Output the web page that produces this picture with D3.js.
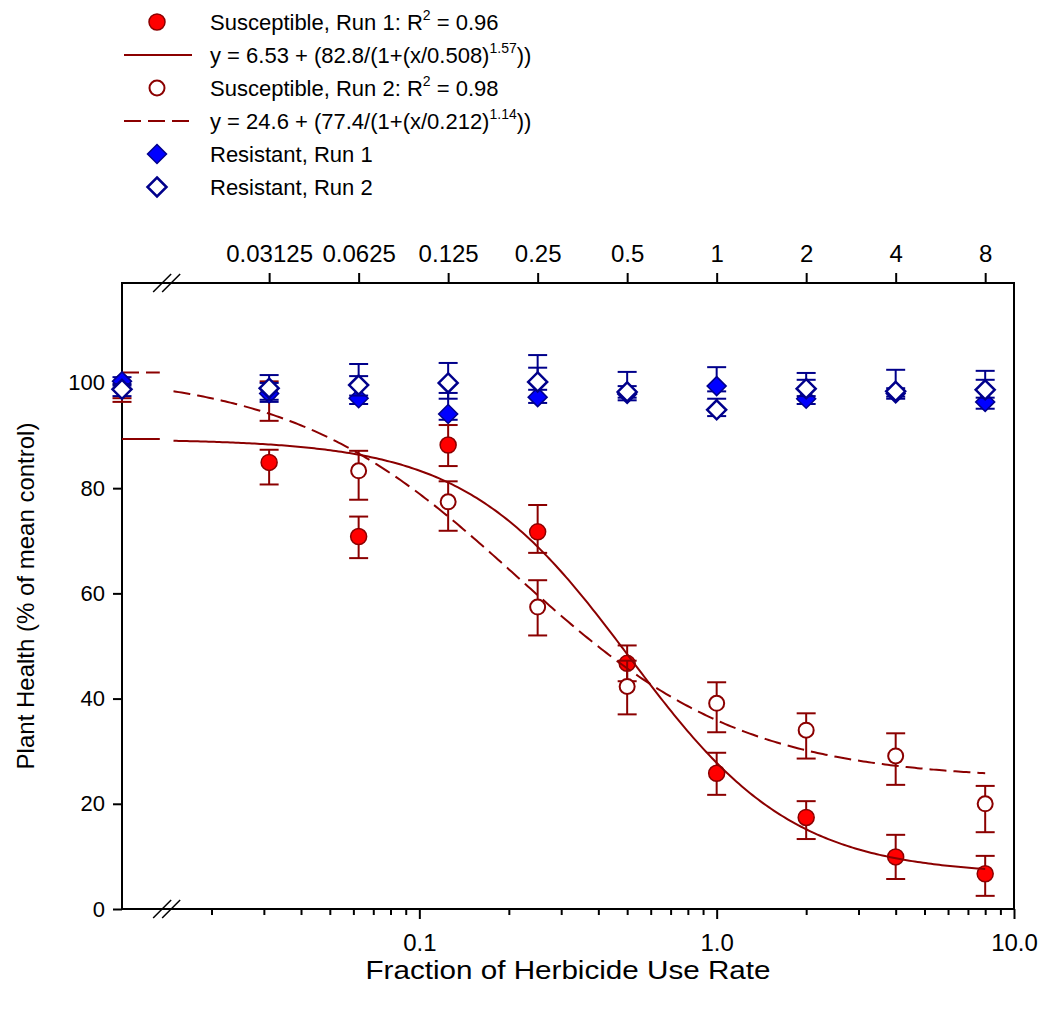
<!DOCTYPE html>
<html><head><meta charset="utf-8">
<script src="https://cdn.jsdelivr.net/npm/d3@7"></script>
<style>body{margin:0;background:#fff} text{font-family:"Liberation Sans",Arial,sans-serif;fill:#000}</style>
</head><body>
<svg id="c" width="1044" height="1013"></svg>
<script>
// ---------- data ----------
const doses = [0, 0.03125, 0.0625, 0.125, 0.25, 0.5, 1, 2, 4, 8];
const topTicks = [0.03125, 0.0625, 0.125, 0.25, 0.5, 1, 2, 4, 8];
const topTickLabels = ["0.03125", "0.0625", "0.125", "0.25", "0.5", "1", "2", "4", "8"];
const bottomTicks = [0.1, 1, 10];
const bottomTickLabels = ["0.1", "1.0", "10.0"];
const yTicks = [0, 20, 40, 60, 80, 100];

const susRun1 = [100, 84.9, 70.8, 88.2, 71.7, 46.7, 25.8, 17.4, 9.9, 6.7];
const susRun1Up = [0, 2.4, 3.8, 3.8, 5.1, 3.4, 3.9, 3.1, 4.2, 3.4];
const susRun1Down = [3.6, 4.2, 4.1, 4.0, 4.0, 3.4, 4.1, 4.1, 4.2, 4.2];

const susRun2 = [100, 98.3, 83.3, 77.4, 57.4, 42.3, 39.1, 34.0, 29.1, 20.0];
const susRun2Up = [0, 2.0, 3.8, 3.9, 5.1, 4.9, 4.0, 3.2, 4.3, 3.4];
const susRun2Down = [2.9, 5.5, 5.5, 5.5, 5.4, 5.3, 5.5, 5.4, 5.5, 5.4];

const resRun1 = [100.3, 98.0, 97.1, 94.1, 97.3, 97.9, 99.4, 97.0, 98.0, 96.4];
const resRun1Up = [0.8, 2.0, 4.2, 4.0, 5.6, 1.5, 3.6, 3.6, 1.0, 4.2];
const resRun1Down = [0.8, 1.6, 1.1, 1.1, 1.1, 1.2, 1.0, 1.0, 1.0, 1.3];

const resRun2 = [98.8, 99.0, 99.6, 100.0, 100.2, 98.3, 94.9, 98.9, 98.4, 98.7];
const resRun2Up = [1.0, 2.5, 4.0, 3.8, 5.1, 3.8, 2.1, 3.0, 4.1, 3.6];
const resRun2Down = [1.3, 2.2, 2.0, 3.0, 1.5, 1.1, 1.2, 1.4, 1.0, 1.5];

// fitted model parameters (from legend)
const fit1 = {c: 6.53, d: 82.8, e: 0.508, b: 1.57};
const fit2 = {c: 24.6, d: 77.4, e: 0.212, b: 1.14};

const xMin = 0.01, xMax = 10, yMax = 119;
const breakLo = 0.0134, breakHi = 0.0149;

// ---------- setup ----------
const DR = "#8B0000", RED = "#FF0000", BLUE = "#0000FF", NAVY = "#00008B";
const svg = d3.select("#c");
const x = d3.scaleLog().domain([xMin, xMax]).range([122, 1014]);
const y = d3.scaleLinear().domain([0, yMax]).range([909, 283]);
const px = d => d === 0 ? x(xMin) : x(d);
const fitF = (p, v) => p.c + p.d / (1 + Math.pow(v / p.e, p.b));

// frame
svg.append("rect").attr("x", x(xMin)).attr("y", y(yMax))
  .attr("width", x(xMax) - x(xMin)).attr("height", y(0) - y(yMax))
  .attr("fill", "none").attr("stroke", "#000").attr("stroke-width", 2);

function styleAxis(size) {
  return g => {
    g.select(".domain").remove();
    g.attr("font-family", '"Liberation Sans", Arial, sans-serif').attr("font-size", size);
    g.selectAll(".tick line").attr("stroke", "#000").attr("stroke-width", 2);
    g.selectAll(".tick text").attr("fill", "#000");
  };
}

// top axis
svg.append("g").attr("transform", `translate(0,${y(yMax)})`)
  .call(d3.axisTop(x).tickValues(topTicks).tickFormat((d, i) => topTickLabels[i]).tickSize(10).tickPadding(11))
  .call(styleAxis(24));

// bottom axis (major)
svg.append("g").attr("transform", `translate(0,${y(0)})`)
  .call(d3.axisBottom(x).tickValues(bottomTicks).tickFormat((d, i) => bottomTickLabels[i]).tickSize(10).tickPadding(15))
  .call(styleAxis(24));
// bottom minor ticks
const minorTicks = [];
[0.01, 0.1, 1].forEach(dec => { for (let k = 2; k <= 9; k++) minorTicks.push(dec * k); });
svg.append("g").attr("transform", `translate(0,${y(0)})`)
  .call(d3.axisBottom(x).tickValues(minorTicks).tickFormat("").tickSize(6))
  .call(styleAxis(24));

// left axis
svg.append("g").attr("transform", `translate(${x(xMin)},0)`)
  .call(d3.axisLeft(y).tickValues(yTicks).tickSize(9).tickPadding(8))
  .call(styleAxis(22));

// axis breaks
const xb = (x(breakLo) + x(breakHi)) / 2;
[y(0), y(yMax)].forEach(yb => {
  [-4.5, 4.5].forEach(off => {
    svg.append("line").attr("x1", xb + off - 9).attr("y1", yb + 9)
      .attr("x2", xb + off + 9).attr("y2", yb - 9)
      .attr("stroke", "#000").attr("stroke-width", 1.5);
  });
});

// axis titles
svg.append("text").attr("transform", `translate(26,${(y(0) + y(yMax)) / 2}) rotate(-90)`)
  .attr("text-anchor", "middle").attr("dy", "0.35em").attr("font-size", 24)
  .text("Plant Health (% of mean control)");
svg.append("text").attr("x", 568).attr("y", 970)
  .attr("text-anchor", "middle").attr("dy", "0.35em").attr("font-size", 25)
  .attr("textLength", 405).attr("lengthAdjust", "spacingAndGlyphs")
  .text("Fraction of Herbicide Use Rate");

// ---------- marks ----------
const diamond = h => `M0,${-h}L${h},0L0,${h}L${-h},0Z`;

function errBars(vals, up, down, color) {
  const g = svg.append("g").attr("stroke", color).attr("stroke-width", 2).attr("fill", "none");
  doses.forEach((d, i) => {
    const cx = px(d), top = vals[i] + up[i], bot = vals[i] - down[i];
    g.append("line").attr("x1", cx).attr("x2", cx).attr("y1", y(top)).attr("y2", y(bot));
    if (up[i] > 0) g.append("line").attr("x1", cx - 9.5).attr("x2", cx + 9.5).attr("y1", y(top)).attr("y2", y(top));
    if (down[i] > 0) g.append("line").attr("x1", cx - 9.5).attr("x2", cx + 9.5).attr("y1", y(bot)).attr("y2", y(bot));
  });
}
function circles(vals, fill, sw, r) {
  svg.append("g").selectAll("circle").data(doses).join("circle")
    .attr("cx", d => px(d)).attr("cy", (d, i) => y(vals[i])).attr("r", r)
    .attr("fill", fill).attr("stroke", DR).attr("stroke-width", sw);
}
function diamonds(vals, fill, sw) {
  svg.append("g").selectAll("path").data(doses).join("path")
    .attr("transform", (d, i) => `translate(${px(d)},${y(vals[i])})`)
    .attr("d", diamond(9.5)).attr("fill", fill).attr("stroke", NAVY).attr("stroke-width", sw);
}

errBars(susRun1, susRun1Up, susRun1Down, DR);
circles(susRun1, RED, 1.5, 8);
errBars(susRun2, susRun2Up, susRun2Down, DR);
circles(susRun2, "#fff", 2, 7.5);

// fitted curves
const line = d3.line().x(d => x(d[0])).y(d => y(d[1]));
const curveXs = d3.range(0, 301).map(i => breakHi * Math.pow(8 / breakHi, i / 300));
[[fit1, null], [fit2, "17,7"]].forEach(([p, dash]) => {
  const left = [[xMin, fitF(p, 0)], [breakLo, fitF(p, 0)]];
  const right = curveXs.map(v => [v, fitF(p, v)]);
  [left, right].forEach(seg => {
    svg.append("path").attr("d", line(seg)).attr("fill", "none")
      .attr("stroke", DR).attr("stroke-width", 2).attr("stroke-dasharray", dash);
  });
});

errBars(resRun1, resRun1Up, resRun1Down, NAVY);
diamonds(resRun1, BLUE, 1.5);
errBars(resRun2, resRun2Up, resRun2Down, NAVY);
diamonds(resRun2, "#fff", 2.5);

// ---------- legend ----------
const legRows = [
  {type: "circle", fill: RED, text: [["Susceptible, Run 1: R", 0], ["2", 1], [" = 0.96", 0]]},
  {type: "line", dash: null, text: [["y = 6.53 + (82.8/(1+(x/0.508)", 0], ["1.57", 1], ["))", 0]]},
  {type: "circle", fill: "#fff", text: [["Susceptible, Run 2: R", 0], ["2", 1], [" = 0.98", 0]]},
  {type: "line", dash: "17,7", text: [["y = 24.6 + (77.4/(1+(x/0.212)", 0], ["1.14", 1], ["))", 0]]},
  {type: "diamond", fill: BLUE, text: [["Resistant, Run 1", 0]]},
  {type: "diamond", fill: "#fff", text: [["Resistant, Run 2", 0]]}
];
const legX = 157, legTextX = 210, legY0 = 22, legDy = 33;
legRows.forEach((r, i) => {
  const cy = legY0 + i * legDy;
  if (r.type === "circle") {
    svg.append("circle").attr("cx", legX).attr("cy", cy).attr("r", r.fill === RED ? 8 : 7.5)
      .attr("fill", r.fill).attr("stroke", DR).attr("stroke-width", r.fill === RED ? 1.5 : 2);
  } else if (r.type === "line") {
    svg.append("line").attr("x1", 124).attr("x2", 192).attr("y1", cy).attr("y2", cy)
      .attr("stroke", DR).attr("stroke-width", 2).attr("stroke-dasharray", r.dash);
  } else {
    svg.append("path").attr("transform", `translate(${legX},${cy})`).attr("d", diamond(9.5))
      .attr("fill", r.fill).attr("stroke", NAVY).attr("stroke-width", r.fill === BLUE ? 1.5 : 2.5);
  }
  const t = svg.append("text").attr("x", legTextX).attr("y", cy + 8).attr("font-size", 22);
  let raised = false;
  r.text.forEach(([s, sup]) => {
    const ts = t.append("tspan").text(s);
    if (sup && !raised) { ts.attr("font-size", 14).attr("dy", -10); raised = true; }
    else if (!sup && raised) { ts.attr("dy", 10); raised = false; }
  });
});
</script>
</body></html>
